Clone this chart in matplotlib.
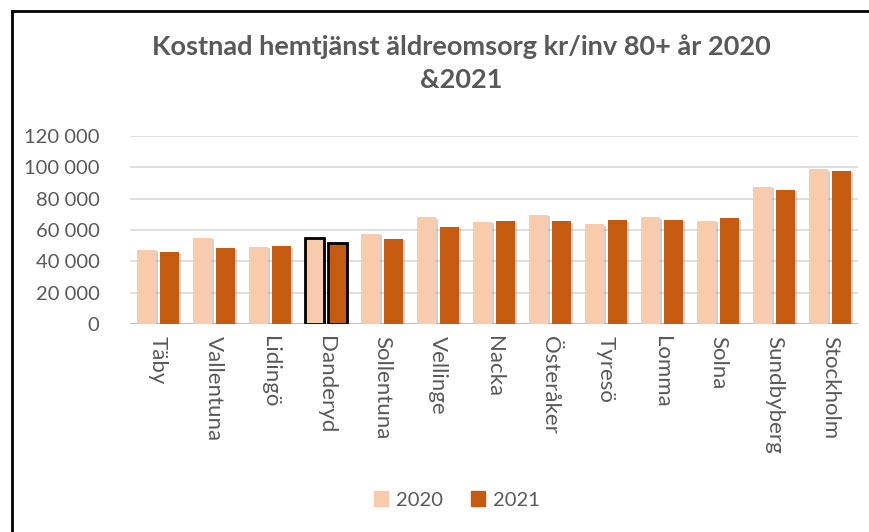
import numpy as np
import matplotlib
matplotlib.use("Agg")
import matplotlib.pyplot as plt
import matplotlib.patheffects as pe
from matplotlib.lines import Line2D
from matplotlib.patches import Patch
from matplotlib.ticker import FuncFormatter

kommuner = ["Täby", "Vallentuna", "Lidingö", "Danderyd", "Sollentuna", "Vellinge",
            "Nacka", "Österåker", "Tyresö", "Lomma", "Solna", "Sundbyberg", "Stockholm"]
v2020 = [47500, 55200, 49400, 55000, 57700, 68400, 65400, 69800, 63700, 68400, 66000, 87700, 98800]
v2021 = [46200, 48800, 49800, 51800, 54500, 62200, 65900, 65800, 66400, 66600, 67500, 85800, 97800]
highlight = "Danderyd"

c2020 = "#F8CBAD"
c2021 = "#C55A11"
txt = "#595959"

plt.rcParams["font.family"] = ["Lato", "DejaVu Sans"]

fig = plt.figure(figsize=(8.7, 5.32), dpi=100)
ax = fig.add_axes([130 / 870, 1 - 324 / 532, (858 - 130) / 870, (324 - 136) / 532])

x = np.arange(len(kommuner))
w = 0.34
shadow = [pe.SimplePatchShadow(offset=(1.5, -1.2), shadow_rgbFace="#8c8c8c", alpha=0.4), pe.Normal()]

b1 = ax.bar(x - 0.21, v2020, w, color=c2020, zorder=3)
b2 = ax.bar(x + 0.21, v2021, w, color=c2021, zorder=3)
for bars in (b1, b2):
    for i, b in enumerate(bars):
        b.set_path_effects(shadow)
        if kommuner[i] == highlight:
            b.set_edgecolor("black")
            b.set_linewidth(2)

ax.set_xlim(-0.5, len(kommuner) - 0.5)
ax.set_ylim(0, 120000)
ax.set_yticks(np.arange(0, 120001, 20000))
ax.yaxis.set_major_formatter(FuncFormatter(lambda v, p: f"{int(v):,}".replace(",", " ")))
ax.grid(axis="y", color="#d9d9d9", lw=1.2, zorder=0)
ax.set_axisbelow(True)
for s in ax.spines.values():
    s.set_visible(False)
ax.axhline(0, color="#bfbfbf", lw=1.5, zorder=2)

ax.set_xticks(x)
ax.set_xticklabels(kommuner, rotation=-90, va="top", ha="center", fontsize=16, color=txt)
ax.tick_params(axis="x", length=0, pad=9)
ax.tick_params(axis="y", length=0, pad=22, labelsize=14.5, labelcolor=txt)

fig.text(0.53, 1 - 47 / 532, "Kostnad hemtjänst äldreomsorg kr/inv 80+ år 2020",
         ha="center", va="center", fontsize=19.5, fontweight="bold", color=txt)
fig.text(0.53, 1 - 80 / 532, "&2021", ha="center", va="center",
         fontsize=19.5, fontweight="bold", color=txt)

handles = [Patch(color=c2020), Patch(color=c2021)]
fig.legend(handles=handles, labels=["2020", "2021"], loc="center",
           bbox_to_anchor=(0.525, 1 - 500 / 532), ncol=2, frameon=False,
           fontsize=14.5, labelcolor=txt, handlelength=0.7, handleheight=0.7,
           handletextpad=0.4, columnspacing=1.4)

# chart border (left and top)
fig.add_artist(Line2D([12 / 870, 12 / 870], [0, 1 - 11 / 532], color="black", lw=2))
fig.add_artist(Line2D([12 / 870, 1], [1 - 11 / 532, 1 - 11 / 532], color="black", lw=2))

fig.savefig("out.png", dpi=100)
